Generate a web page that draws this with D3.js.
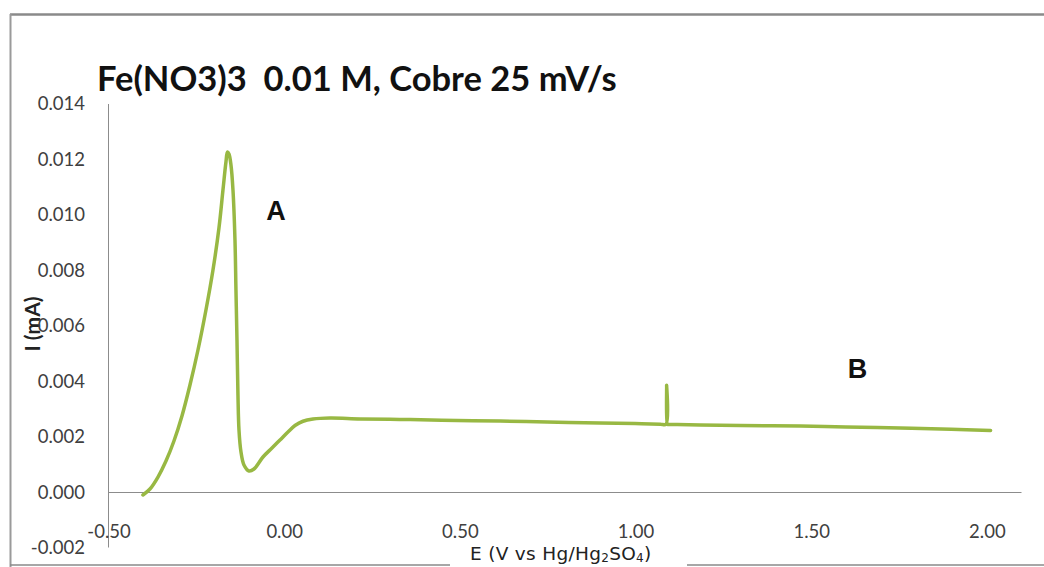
<!DOCTYPE html>
<html>
<head>
<meta charset="utf-8">
<script src="https://cdn.jsdelivr.net/npm/d3@7"></script>
<style>
  html, body { margin: 0; padding: 0; background: #fff; }
  svg { display: block; }
</style>
</head>
<body>
<script>
// Voltammogram: Fe(NO3)3 0.01 M on copper, 25 mV/s
const potential = [
  -0.4006, -0.3806, -0.3578, -0.3350, -0.3123, -0.2895, -0.2667, -0.2439, -0.2212, -0.2012,
  -0.1842, -0.1728, -0.1643, -0.1600, -0.1557, -0.1500, -0.1443, -0.1386, -0.1358, -0.1329,
  -0.1301, -0.1272, -0.1215, -0.1130, -0.0988, -0.0845, -0.0589, -0.0333, -0.0105, 0.0122,
  0.0322, 0.0549, 0.0834, 0.1318, 0.2172, 0.3300, 0.4500, 0.6160, 0.7500, 0.9000,
  1.0000, 1.0720, 1.0880, 1.0900, 1.0920, 1.0940, 1.1200, 1.1860, 1.3000, 1.4710,
  1.6000, 1.7550, 1.9000, 2.0120
];
const current = [
  -0.000106, 0.000110, 0.000543, 0.001120, 0.001842, 0.002744, 0.003862, 0.005125, 0.006568, 0.008011,
  0.009526, 0.010897, 0.011907, 0.012268, 0.012196, 0.011800, 0.010897, 0.009093, 0.007289, 0.005485,
  0.003501, 0.002239, 0.001445, 0.000976, 0.000760, 0.000832, 0.001265, 0.001589, 0.001878, 0.002167,
  0.002400, 0.002555, 0.002635, 0.002671, 0.002640, 0.002620, 0.002595, 0.002560, 0.002530, 0.002490,
  0.002470, 0.002450, 0.002445, 0.003850, 0.002445, 0.002443, 0.002435, 0.002420, 0.002400, 0.002380,
  0.002350, 0.002310, 0.002270, 0.002220
];
const xTicks = [-0.5, 0, 0.5, 1.0, 1.5, 2.0];
const yTicks = [-0.002, 0, 0.002, 0.004, 0.006, 0.008, 0.010, 0.012, 0.014];
const pointLabels = [
  { text: "A", e: -0.022, i: 0.0098 },
  { text: "B", e: 1.633, i: 0.00413 }
];

const W = 1044, H = 567;
const svg = d3.select("body").append("svg").attr("width", W).attr("height", H);

// chart frame
svg.append("rect").attr("x", 0).attr("y", 0).attr("width", W).attr("height", H).attr("fill", "#fff");
svg.append("line").attr("x1", 10).attr("x2", W).attr("y1", 14.5).attr("y2", 14.5)
  .attr("stroke", "#8a8a8a").attr("stroke-width", 2.5);
svg.append("line").attr("x1", 10.5).attr("x2", 10.5).attr("y1", 14).attr("y2", H)
  .attr("stroke", "#9a9a9a").attr("stroke-width", 2);
svg.append("line").attr("x1", 10).attr("x2", W).attr("y1", 565).attr("y2", 565)
  .attr("stroke", "#8a8a8a").attr("stroke-width", 1.5);

const x = d3.scaleLinear().domain([-0.5, 2.1]).range([108, 1021.5]);
const y = d3.scaleLinear().domain([-0.002, 0.014]).range([547.5, 104]);

const tickFont = "Lato, 'Open Sans', sans-serif";

// y axis
svg.append("line").attr("x1", x(-0.5) + 0.5).attr("x2", x(-0.5) + 0.5)
  .attr("y1", y(0.014)).attr("y2", y(-0.002))
  .attr("stroke", "#8c8c8c").attr("stroke-width", 1);
// x axis at I = 0
svg.append("line").attr("x1", x(-0.5)).attr("x2", x(2.1))
  .attr("y1", Math.round(y(0)) + 0.5).attr("y2", Math.round(y(0)) + 0.5)
  .attr("stroke", "#8c8c8c").attr("stroke-width", 1);

// y-axis title
svg.append("text")
  .attr("transform", "translate(40,324) rotate(-90)")
  .attr("text-anchor", "middle")
  .attr("font-family", tickFont).attr("font-weight", "bold")
  .attr("font-size", 21).attr("fill", "#222")
  .text("I (mA)");

svg.append("g").selectAll("text").data(yTicks).join("text")
  .attr("x", 85).attr("y", d => y(d))
  .attr("dy", "0.35em")
  .attr("text-anchor", "end")
  .attr("font-family", tickFont).attr("font-size", 18.5).attr("fill", "#404040")
  .text(d => d3.format(".3f")(d).replace("−", "-"));

svg.append("g").selectAll("text").data(xTicks).join("text")
  .attr("x", d => x(d) + 1).attr("y", 538)
  .attr("text-anchor", "middle")
  .attr("font-family", tickFont).attr("font-size", 18.5).attr("fill", "#404040")
  .text(d => d3.format(".2f")(d).replace("−", "-"));

// current trace
const pts = potential.map((e, k) => [e, current[k]]);
svg.append("path")
  .datum(pts)
  .attr("fill", "none")
  .attr("stroke", "#98b843")
  .attr("stroke-width", 3.5)
  .attr("stroke-linejoin", "round")
  .attr("stroke-linecap", "round")
  .attr("d", d3.line().x(d => x(d[0])).y(d => y(d[1])).curve(d3.curveCatmullRom.alpha(0.5)));

// peak labels
svg.append("g").selectAll("text").data(pointLabels).join("text")
  .attr("x", d => x(d.e)).attr("y", d => y(d.i))
  .attr("text-anchor", "middle")
  .attr("font-family", "'Liberation Sans', Arial, sans-serif").attr("font-weight", "bold")
  .attr("font-size", 27).attr("fill", "#111")
  .text(d => d.text);

// chart title
svg.append("text")
  .attr("x", 97).attr("y", 91)
  .attr("font-family", tickFont).attr("font-weight", "bold")
  .attr("font-size", 34.5).attr("fill", "#111")
  .style("white-space", "pre")
  .text("Fe(NO3)3  0.01 M, Cobre 25 mV/s");

// x-axis title on a white box that breaks the frame line
svg.append("rect").attr("x", 450).attr("y", 544).attr("width", 237).attr("height", 23).attr("fill", "#fff");
const xt = svg.append("text")
  .attr("x", 470).attr("y", 560)
  .attr("font-family", "'DejaVu Sans', Verdana, sans-serif")
  .attr("font-size", 18.5).attr("letter-spacing", 0.3).attr("fill", "#222");
xt.append("tspan").text("E (V vs Hg/Hg");
xt.append("tspan").attr("font-size", 12).attr("dy", 2).text("2");
xt.append("tspan").attr("dy", -2).text("SO");
xt.append("tspan").attr("font-size", 12).attr("dy", 2).text("4");
xt.append("tspan").attr("dy", -2).text(")");
</script>
</body>
</html>
